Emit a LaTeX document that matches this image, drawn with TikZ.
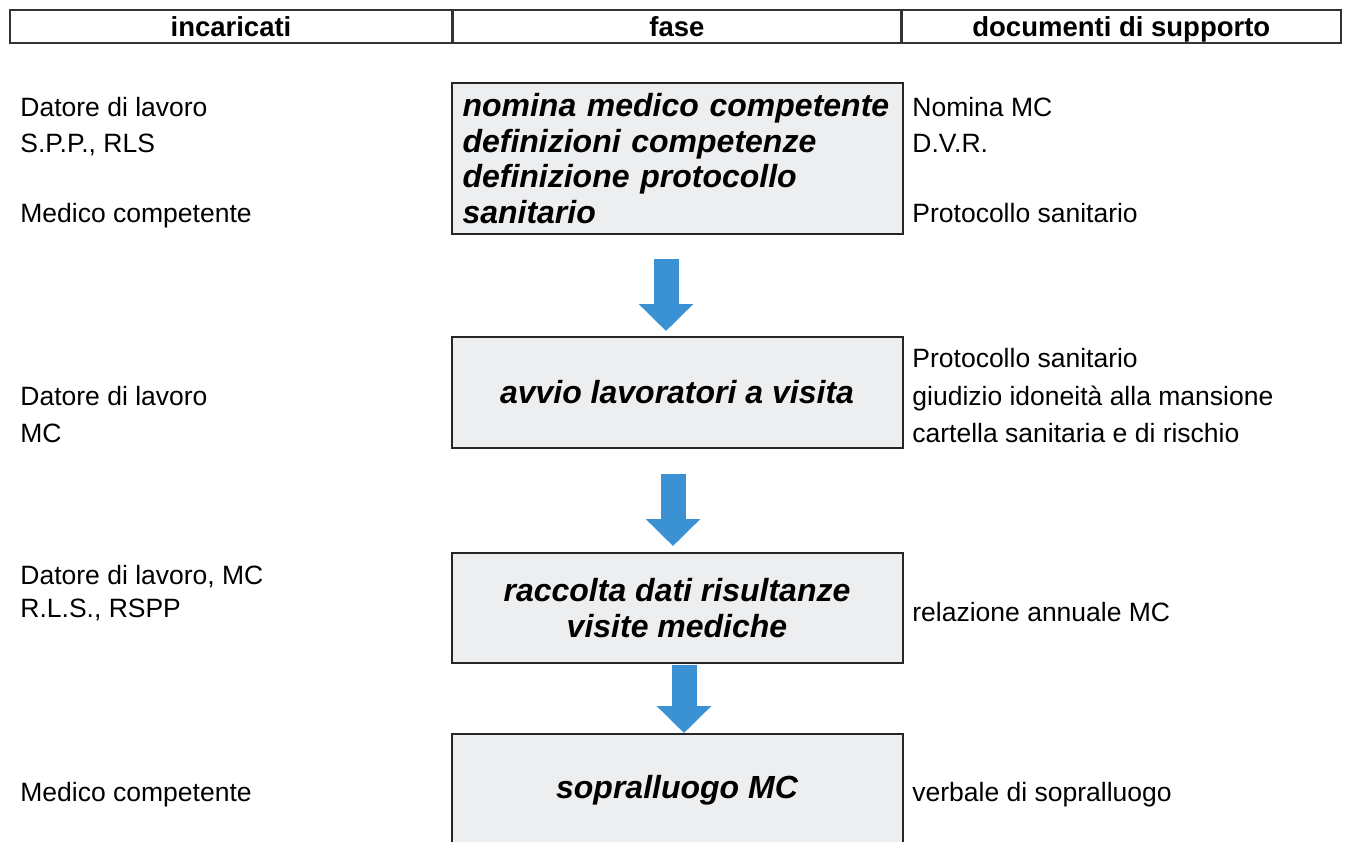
\documentclass[tikz,border=0pt]{standalone}
\usepackage{fontspec}
\setmainfont{Liberation Sans}
\usetikzlibrary{arrows.meta,calc}
\definecolor{boxgray}{RGB}{237,238,240}
\definecolor{arrowblue}{RGB}{58,145,212}

\begin{document}
\begin{tikzpicture}[x=0.5pt, y=-0.5pt,
  every node/.style={font=\fontsize{13.25}{18}\selectfont},
  hdr/.style={draw=black!80, line width=0.7pt, minimum height=16.5pt, inner sep=0pt, text height=10pt, text depth=0pt, font=\fontsize{13.75}{16}\selectfont\bfseries},
  txt/.style={anchor=west, inner sep=0pt, text height=9.5pt, text depth=0pt},
  fasebox/.style={draw=black!85, line width=1pt, fill=boxgray, minimum width=225.5pt, inner sep=0pt, align=center, font=\fontsize{16}{17.75}\selectfont\bfseries\itshape},
  flow/.style={arrowblue, line width=12.5pt, -{Triangle[width=26.5pt,length=13.5pt]}}]
\useasboundingbox (0,0) rectangle (1358,841);
% header row
\node[hdr, minimum width=221pt] (h1) at (231,26.5) {incaricati};
\node[hdr, minimum width=223.5pt, anchor=west] (h2) at (h1.east) {fase};
\node[hdr, minimum width=219.5pt, anchor=west] (h3) at (h2.east) {documenti di supporto};
% phases
\node[fasebox, minimum height=75.5pt, text width=214.5pt, align=left] (f1) at (677,158.5) {nomina medico competente\\definizioni competenze\\definizione protocollo\\sanitario};
\node[fasebox, minimum height=55.5pt] (f2) at (677,392.5) {avvio lavoratori a visita};
\node[fasebox, minimum height=55pt] (f3) at (677,608) {raccolta dati risultanze\\visite mediche};
\node[fasebox, minimum height=56pt] (f4) at (677,790) {sopralluogo MC};
\draw[flow] ($(f1.south)+(-11,24)$) -- ($(f2.north)+(-11,-5)$);
\draw[flow] ($(f2.south)+(-4,25)$) -- ($(f3.north)+(-4,-6)$);
\draw[flow] ($(f3.south)+(7,1)$) -- ($(f4.north)+(7,0)$);
% incaricati / documenti
\foreach \y/\t [count=\i] in {107/Datore di lavoro, 143/{S.P.P., RLS}, 213/Medico competente, 396/Datore di lavoro, 433/MC, 575/{Datore di lavoro, MC}, 608/{R.L.S., RSPP}, 792/Medico competente}
  \node[txt] (inc\i) at (20,\y) {\t};
\foreach \y/\t [count=\i] in {107/Nomina MC, 143/D.V.R., 213/Protocollo sanitario, 358/Protocollo sanitario, 396/giudizio idoneità alla mansione, 433/cartella sanitaria e di rischio, 612/relazione annuale MC, 792/verbale di sopralluogo}
  \node[txt] (doc\i) at (912,\y) {\t};
\end{tikzpicture}
\end{document}
